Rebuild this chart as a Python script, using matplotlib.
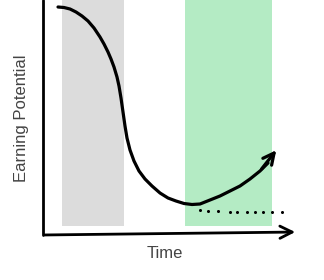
import matplotlib.pyplot as plt

# band ranges along the time axis (pixel-like units)
gray_band = (62, 124)
green_band = (185, 272)
band_bottom = 54

# earning potential curve (time, potential)
curve_t = [58, 64, 70, 76, 82, 88, 94, 100, 104, 108, 111, 114, 117, 119,
           121, 123, 125, 127, 130, 134, 139, 145, 152, 160, 168, 176, 184,
           192, 200, 210, 220, 230, 240, 250, 260, 268, 278]
curve_p = [273, 272.5, 271, 268, 264, 259, 252, 243, 236, 228, 221, 213, 203,
           194, 182, 168, 154, 142, 130, 119, 109, 101, 94, 87, 82, 79, 76.5,
           75.5, 76, 80, 84, 89, 94, 101, 109, 117, 132]

# dotted "no change" path
flat_t = [200, 208, 218, 230, 237, 247, 255, 263, 272, 282]
flat_p = [70, 69, 69, 68, 68, 68, 68, 68, 68, 68]

fig = plt.figure(figsize=(3.24, 2.80), dpi=100)
ax = fig.add_axes([0, 0, 1, 1])
ax.set_xlim(0, 324)
ax.set_ylim(0, 280)
ax.axis('off')

ax.axvspan(*gray_band, ymin=band_bottom / 280, ymax=1, color='#dcdcdc', lw=0)
ax.axvspan(*green_band, ymin=band_bottom / 280, ymax=1, color='#b4ebc4', lw=0)

# hand-drawn axes
ax.plot([43, 43], [280, 45], color='black', lw=2, solid_capstyle='round')
ax.annotate('', xy=(298, 48), xytext=(42, 45),
            arrowprops=dict(arrowstyle='->', color='black', lw=2,
                            mutation_scale=22))

ax.plot(curve_t[:-1], curve_p[:-1], color='black', lw=2.3,
        solid_capstyle='round', solid_joinstyle='round')
ax.annotate('', xy=(curve_t[-1], curve_p[-1]), xytext=(curve_t[-3], curve_p[-3]),
            arrowprops=dict(arrowstyle='->', color='black', lw=2.3,
                            mutation_scale=20))

ax.plot(flat_t, flat_p, 'o', color='black', ms=2.2, mew=0)

ax.text(22, 162, 'Earning Potential', rotation=90, ha='center', va='center',
        fontsize=12, color='#444444', family='Liberation Sans')
ax.text(165, 27, 'Time', ha='center', va='center', fontsize=12,
        color='#444444', family='Liberation Sans')

fig.savefig('out.png', dpi=100)
